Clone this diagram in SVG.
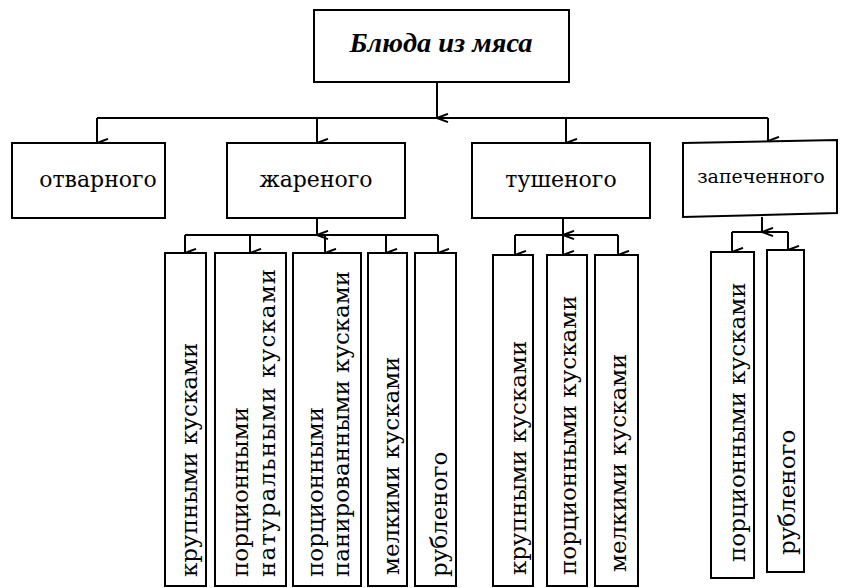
<svg xmlns="http://www.w3.org/2000/svg" width="841" height="588" viewBox="0 0 841 588">
<defs>
<style>
.box{fill:#fff;stroke:#000;stroke-width:2}
.ln{fill:none;stroke:#000;stroke-width:2}
.ar{fill:none;stroke:#000;stroke-width:2;marker-end:url(#arr)}
.t2{font-family:"DejaVu Serif",serif;font-size:22px;fill:#000;text-anchor:middle}
.tv{font-family:"DejaVu Serif",serif;font-size:23px;fill:#000}
.title{font-family:"Liberation Serif",serif;font-size:27px;font-weight:bold;font-style:italic;fill:#000;text-anchor:middle}
</style>
<marker id="arr" viewBox="0 0 12 14" refX="6" refY="13" markerWidth="11" markerHeight="13" markerUnits="userSpaceOnUse" orient="auto">
<path d="M1.5,1 L6,13 L10.5,1" fill="none" stroke="#000" stroke-width="2.2"/>
</marker>
</defs>
<rect width="841" height="588" fill="#fff"/>
<g id="connectors">
<path class="ar" d="M437,82 V118"/>
<path class="ln" d="M97,118 H768"/>
<path class="ar" d="M97,118 V143"/>
<path class="ar" d="M317,118 V143"/>
<path class="ar" d="M566,118 V143"/>
<path class="ar" d="M768,118 V141"/>
<path class="ar" d="M317,218 V235"/>
<path class="ln" d="M185,235 H438"/>
<path class="ar" d="M185,235 V253"/>
<path class="ar" d="M250,235 V253"/>
<path class="ar" d="M325,235 V253"/>
<path class="ar" d="M386,235 V253"/>
<path class="ar" d="M438,235 V253"/>
<path class="ar" d="M563,218 V235"/>
<path class="ln" d="M515,235 H618"/>
<path class="ar" d="M515,235 V255"/>
<path class="ar" d="M563,235 V255"/>
<path class="ar" d="M618,235 V255"/>
<path class="ar" d="M762,217 V232"/>
<path class="ln" d="M732,232 H788"/>
<path class="ar" d="M732,232 V252"/>
<path class="ar" d="M788,232 V250"/>
</g>
<g id="root">
<rect class="box" x="314" y="10" width="255" height="72"/>
<text class="title" x="441" y="52" textLength="183" lengthAdjust="spacingAndGlyphs">Блюда из мяса</text>
</g>
<g id="otvarnogo">
<rect class="box" x="12" y="143" width="153" height="75"/>
<text class="t2" x="98" y="187">отварного</text>
</g>
<g id="zharenogo">
<rect class="box" x="227" y="143" width="178" height="75"/>
<text class="t2" x="316" y="187">жареного</text>
</g>
<g id="tushenogo">
<rect class="box" x="472" y="143" width="178" height="75"/>
<text class="t2" x="561" y="187">тушеного</text>
</g>
<g id="zapechennogo">
<polygon class="box" points="683,143 837,140 837,213 683,217"/>
<text class="t2" x="761" y="183" style="font-size:19px">запеченного</text>
</g>
<g id="zh-krupnymi">
<rect class="box" x="165" y="253" width="41" height="333"/>
<text class="tv" transform="translate(197,577) rotate(-90)">крупными кусками</text>
</g>
<g id="zh-porc-nat">
<rect class="box" x="215" y="253" width="71" height="333"/>
<text class="tv" transform="translate(248,577) rotate(-90)">порционными</text>
<text class="tv" transform="translate(275,577) rotate(-90)" textLength="308">натуральными кусками</text>
</g>
<g id="zh-porc-pan">
<rect class="box" x="293" y="253" width="68" height="333"/>
<text class="tv" transform="translate(323,577) rotate(-90)">порционными</text>
<text class="tv" transform="translate(349,577) rotate(-90)" textLength="306">панированными кусками</text>
</g>
<g id="zh-melkimi">
<rect class="box" x="368" y="253" width="39" height="333"/>
<text class="tv" transform="translate(399,575) rotate(-90)">мелкими кусками</text>
</g>
<g id="zh-rublenogo">
<rect class="box" x="415" y="253" width="41" height="333"/>
<text class="tv" transform="translate(447,577) rotate(-90)">рубленого</text>
</g>
<g id="tu-krupnymi">
<rect class="box" x="493" y="255" width="40" height="331"/>
<text class="tv" transform="translate(526,575) rotate(-90)">крупными кусками</text>
</g>
<g id="tu-porc">
<rect class="box" x="547" y="255" width="40" height="331"/>
<text class="tv" transform="translate(576,575) rotate(-90)">порционными кусками</text>
</g>
<g id="tu-melkimi">
<rect class="box" x="595" y="255" width="43" height="331"/>
<text class="tv" transform="translate(626,572) rotate(-90)">мелкими кусками</text>
</g>
<g id="za-porc">
<rect class="box" x="711" y="252" width="43" height="326"/>
<text class="tv" transform="translate(745,562) rotate(-90)">порционными кусками</text>
</g>
<g id="za-rublenogo">
<rect class="box" x="767" y="250" width="37" height="322"/>
<text class="tv" transform="translate(795,555) rotate(-90)">рубленого</text>
</g>
</svg>
